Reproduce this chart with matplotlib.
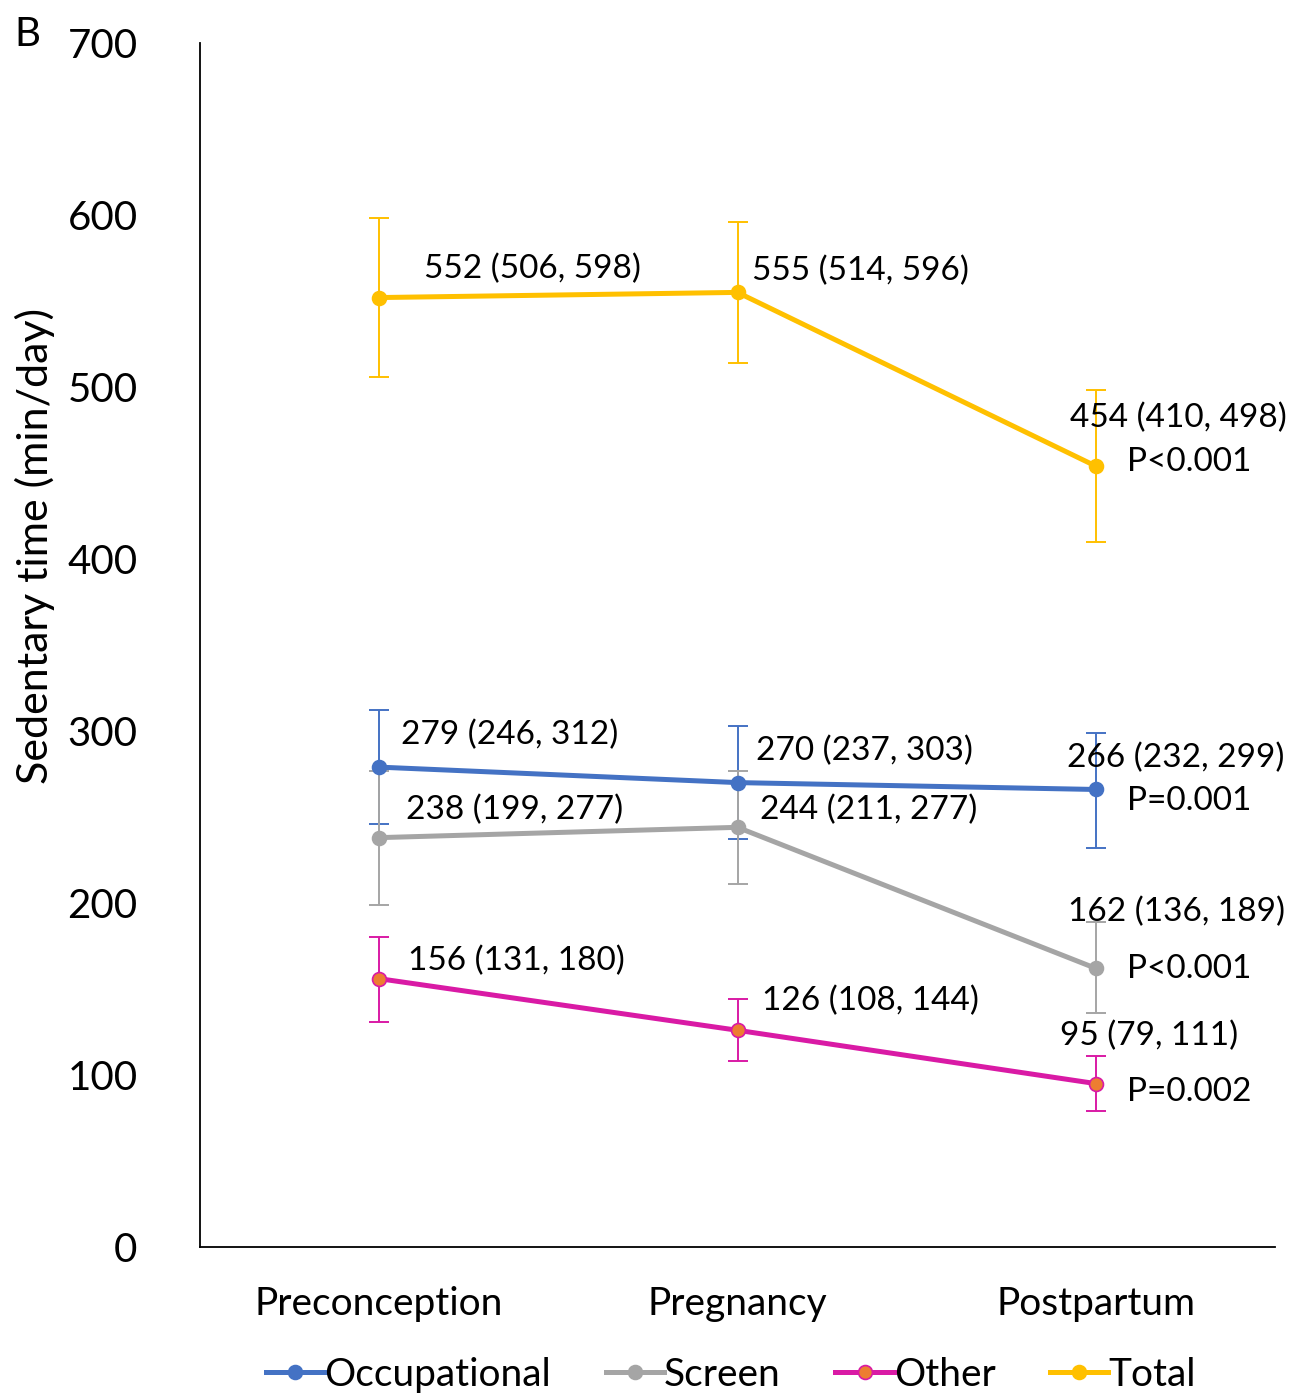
import matplotlib
matplotlib.use("Agg")
import matplotlib.pyplot as plt

plt.rcParams["font.family"] = ["Lato", "DejaVu Sans"]

# ------------------------------
# data
# ------------------------------
periods = ["Preconception", "Pregnancy", "Postpartum"]
series = ["Occupational", "Screen", "Other", "Total"]

occupational = [279, 270, 266]
occupational_lo = [246, 237, 232]
occupational_hi = [312, 303, 299]

screen = [238, 244, 162]
screen_lo = [199, 211, 136]
screen_hi = [277, 277, 189]

other = [156, 126, 95]
other_lo = [131, 108, 79]
other_hi = [180, 144, 111]

total = [552, 555, 454]
total_lo = [506, 514, 410]
total_hi = [598, 596, 498]

p_values = ["P=0.001", "P<0.001", "P=0.002", "P<0.001"]

# ------------------------------
# styles and label offsets (pixels)
# ------------------------------
line_colors = ["#4472C4", "#A5A5A5", "#D91AA5", "#FFC000"]
marker_faces = ["#4472C4", "#A5A5A5", "#ED7D31", "#FFC000"]
label_offsets = [
    [(22, 32), (18, 32), (-29, 32)],
    [(27, 28), (23, 17), (-28, 56)],
    [(29, 18), (25, 29), (-36, 48)],
    [(45, 29), (15, 21), (-26, 48)],
]
p_offsets = [(31, -12), (31, -1), (31, -8), (31, 4)]

values = [occupational, screen, other, total]
lows = [occupational_lo, screen_lo, other_lo, total_lo]
highs = [occupational_hi, screen_hi, other_hi, total_hi]

fig = plt.figure(figsize=(12.94, 13.97), dpi=100)
ax = fig.add_axes([200 / 1294, 150 / 1397, 1075 / 1294, 1204 / 1397])

x = list(range(len(periods)))
handles = []
for i, name in enumerate(series):
    v = values[i]
    err = [[v[j] - lows[i][j] for j in x], [highs[i][j] - v[j] for j in x]]
    ax.errorbar(x, v, yerr=err, fmt="none", ecolor=line_colors[i],
                elinewidth=1.4, capsize=7, capthick=1.4, zorder=2)
    h, = ax.plot(x, v, color=line_colors[i], lw=3.6, marker="o", ms=10,
                 mfc=marker_faces[i], mec=line_colors[i], mew=1.2,
                 label=name, zorder=3)
    handles.append(h)
    for j in x:
        txt = f"{v[j]} ({lows[i][j]}, {highs[i][j]})"
        ax.annotate(txt, (j, v[j]), xytext=label_offsets[i][j],
                    textcoords="offset pixels", fontsize=24,
                    ha="left", va="center", zorder=4)
    ax.annotate(p_values[i], (x[-1], v[-1]), xytext=p_offsets[i],
                textcoords="offset pixels", fontsize=24,
                ha="left", va="center", zorder=4)

ax.set_xlim(-0.5, 2.5)
ax.set_ylim(0, 700)
ax.set_yticks(range(0, 701, 100))
ax.set_xticks(x)
ax.set_xticklabels(periods)
ax.tick_params(axis="y", length=0, pad=45, labelsize=29)
ax.tick_params(axis="x", length=0, pad=28, labelsize=28)
for side in ["top", "right"]:
    ax.spines[side].set_visible(False)
for side in ["left", "bottom"]:
    ax.spines[side].set_linewidth(1.3)
ax.set_ylabel("Sedentary time (min/day)", fontsize=31)
ax.yaxis.set_label_coords(-0.135, 0.582)

fig.legend(handles=handles, loc="center", bbox_to_anchor=(731 / 1294, 1 - 1375 / 1397),
           ncol=4, frameon=False, fontsize=28, handlelength=1.5,
           handletextpad=0.0, columnspacing=1.4)

fig.text(14 / 1294, 1 - 35 / 1397, "B", fontsize=29, va="center", ha="left")

fig.savefig("out.png", dpi=100)
